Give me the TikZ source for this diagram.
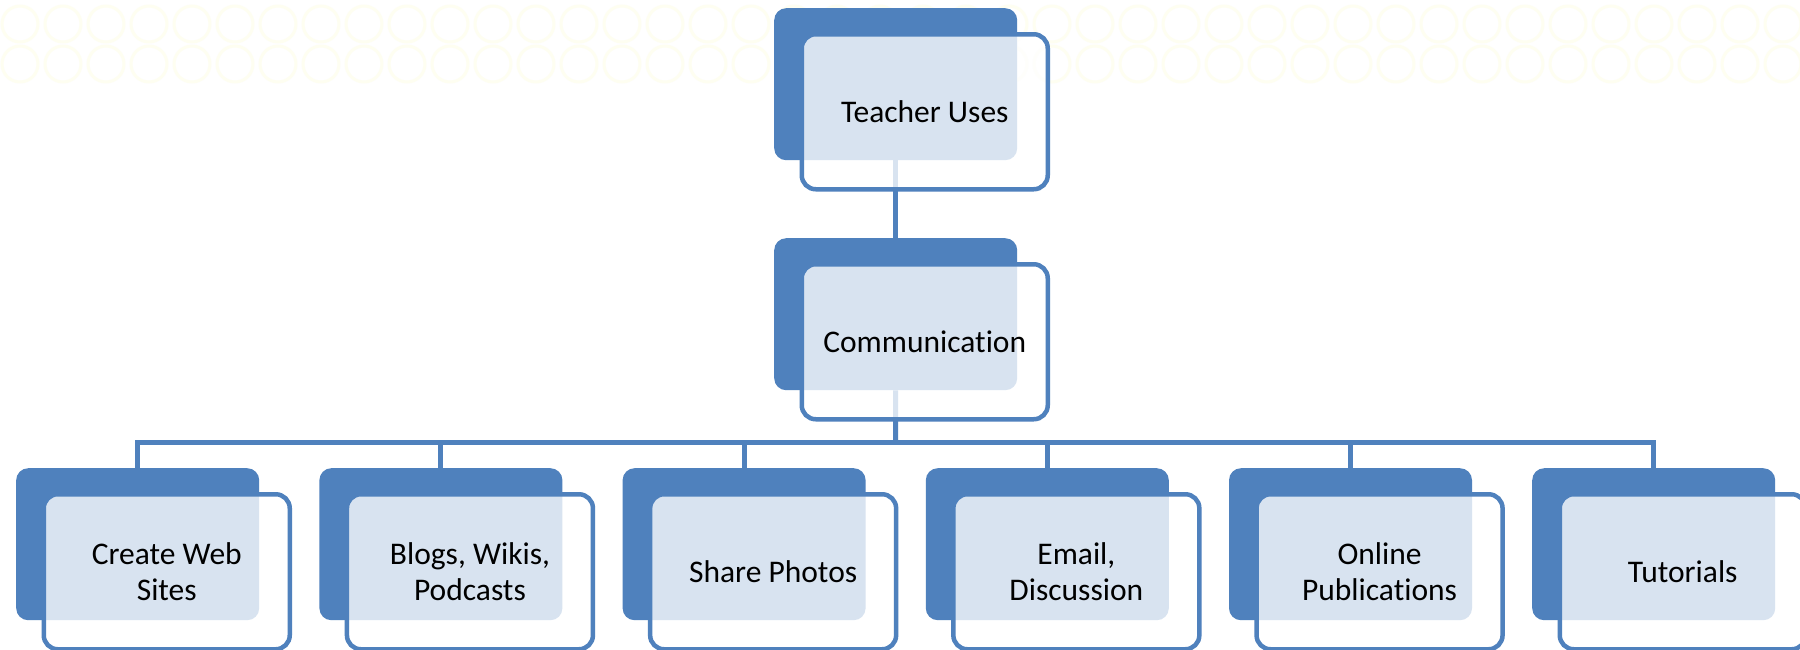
\documentclass[tikz,border=0pt]{standalone}
\usepackage{fontspec}
\setmainfont[Ligatures=NoCommon]{Carlito}
\definecolor{myblue}{HTML}{4F81BD}
\definecolor{cream}{HTML}{FEFEF1}
\begin{document}
\begin{tikzpicture}[x=1pt,y=-1pt,
  backbox/.style={fill=myblue, rounded corners=12pt, minimum width=243pt, minimum height=152pt, inner sep=0pt, anchor=north west},
  frontbox/.style={draw=myblue, line width=4.5pt, fill=white, fill opacity=0.78, text opacity=1, rounded corners=14pt, minimum width=246pt, minimum height=155pt, inner sep=0pt, anchor=north west, align=center, text=black, font=\fontsize{31.5}{36}\selectfont},
  conn/.style={draw=myblue, line width=5pt}]
\useasboundingbox (0,0) rectangle (1800,649);
\fill[white] (0,0) rectangle (1800,649);
% faint background circles
\foreach \i in {0,...,42} {
  \draw[cream, line width=3pt] (\i*43+20,24) circle (18);
  \draw[cream, line width=3pt] (\i*43+20,64) circle (18);
}
% back boxes
\node[backbox] (top-b) at (774,8) {};
\node[backbox] (com-b) at (774,238) {};
\node[backbox] (c1-b) at (16,468) {};
\node[backbox] (c2-b) at (319.2,468) {};
\node[backbox] (c3-b) at (622.4,468) {};
\node[backbox] (c4-b) at (925.6,468) {};
\node[backbox] (c5-b) at (1228.8,468) {};
\node[backbox] (c6-b) at (1532,468) {};
% connectors
\coordinate (bus) at (895.5,442);
\draw[conn] (top-b.south) -- (com-b.north);
\draw[conn] (com-b.south) -- (bus);
\foreach \n in {c1,c2,c3,c4,c5,c6} {
  \draw[conn] (\n-b.north) |- (bus);
}
% front boxes
\node[frontbox] (top) at (799.5,32) {Teacher Uses};
\node[frontbox] (com) at (799.5,262) {Communication};
\node[frontbox] (c1) at (41.5,492) {Create Web\\Sites};
\node[frontbox] (c2) at (344.7,492) {Blogs, Wikis,\\Podcasts};
\node[frontbox] (c3) at (647.9,492) {Share Photos};
\node[frontbox] (c4) at (951.1,492) {Email,\\Discussion};
\node[frontbox] (c5) at (1254.3,492) {Online\\Publications};
\node[frontbox] (c6) at (1557.5,492) {Tutorials};
\end{tikzpicture}
\end{document}
